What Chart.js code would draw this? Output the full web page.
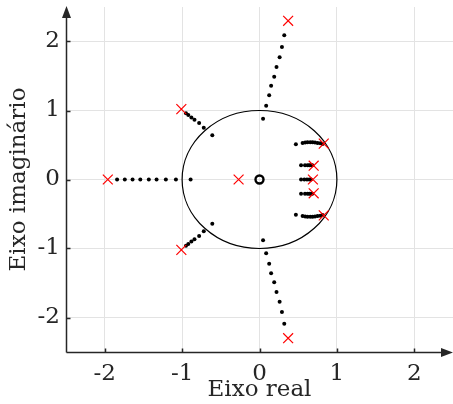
<!DOCTYPE html>
<html>
<head>
<meta charset="utf-8">
<script src="https://cdn.jsdelivr.net/npm/chart.js@4.4.0/dist/chart.umd.min.js"></script>
<style>
  html, body { margin: 0; padding: 0; background: #fff; }
  #wrap { width: 453px; height: 404px; }
</style>
</head>
<body>
<div id="wrap"><canvas id="grafico"></canvas></div>
<script>
// Ticks dos eixos
const xTicks = [-2, -1, 0, 1, 2];
const yTicks = [-2, -1, 0, 1, 2];
const raioCirculo = 1;

// Polos (x vermelho)
const poloRe = [-1.96, -1.01, -1.01, -0.27, 0.37, 0.37, 0.83, 0.70, 0.69, 0.70, 0.83];
const poloIm = [0, 1.02, -1.02, 0, 2.30, -2.30, 0.52, 0.20, 0, -0.20, -0.52];

// Zero (o)
const zeroRe = [0];
const zeroIm = [0];

// Lugar das raízes (pontos pretos)
const ramoRealRe = [-1.84, -1.74, -1.64, -1.54, -1.43, -1.33, -1.21, -1.08, -0.89];
const ramoRealIm = [0, 0, 0, 0, 0, 0, 0, 0, 0];

const ramoSupEsqRe = [-0.95, -0.92, -0.88, -0.84, -0.78, -0.72, -0.61];
const ramoSupEsqIm = [0.96, 0.935, 0.90, 0.867, 0.82, 0.75, 0.64];
const ramoInfEsqRe = [-0.95, -0.92, -0.88, -0.84, -0.78, -0.72, -0.61];
const ramoInfEsqIm = [-0.96, -0.935, -0.90, -0.867, -0.82, -0.75, -0.64];

const ramoSupRe = [0.32, 0.29, 0.26, 0.22, 0.19, 0.15, 0.125, 0.086, 0.046];
const ramoSupIm = [2.09, 1.92, 1.77, 1.63, 1.49, 1.36, 1.22, 1.07, 0.88];
const ramoInfRe = [0.32, 0.29, 0.26, 0.22, 0.19, 0.15, 0.125, 0.086, 0.046];
const ramoInfIm = [-2.09, -1.92, -1.77, -1.63, -1.49, -1.36, -1.22, -1.07, -0.88];

const ramoDir1Re = [0.47, 0.557, 0.59, 0.62, 0.656, 0.686, 0.717, 0.75, 0.785, 0.815];
const ramoDir1Im = [0.51, 0.53, 0.535, 0.539, 0.539, 0.539, 0.535, 0.53, 0.525, 0.516];
const ramoDir2Re = [0.537, 0.588, 0.622, 0.644, 0.665, 0.682];
const ramoDir2Im = [0.205, 0.205, 0.205, 0.205, 0.205, 0.205];
const ramoDir3Re = [0.537, 0.579, 0.614, 0.644, 0.665];
const ramoDir3Im = [0, 0, 0, 0, 0];
const ramoDir4Re = [0.537, 0.588, 0.622, 0.644, 0.665, 0.682];
const ramoDir4Im = [-0.205, -0.205, -0.205, -0.205, -0.205, -0.205];
const ramoDir5Re = [0.47, 0.557, 0.59, 0.62, 0.656, 0.686, 0.717, 0.75, 0.785, 0.815];
const ramoDir5Im = [-0.51, -0.53, -0.535, -0.539, -0.539, -0.539, -0.535, -0.53, -0.525, -0.516];

const ramos = [
  [ramoRealRe, ramoRealIm],
  [ramoSupEsqRe, ramoSupEsqIm],
  [ramoInfEsqRe, ramoInfEsqIm],
  [ramoSupRe, ramoSupIm],
  [ramoInfRe, ramoInfIm],
  [ramoDir1Re, ramoDir1Im],
  [ramoDir2Re, ramoDir2Im],
  [ramoDir3Re, ramoDir3Im],
  [ramoDir4Re, ramoDir4Im],
  [ramoDir5Re, ramoDir5Im]
];

function pontos(re, im) {
  return re.map((v, i) => ({ x: v, y: im[i] }));
}

const corEixo = '#262626';
const fonte = { family: 'DejaVu Serif', size: 23 };

// Círculo unitário e eixos com setas
const eixosPlugin = {
  id: 'eixos',
  beforeDatasetsDraw(chart) {
    const { ctx, scales: { x, y } } = chart;
    const cx = x.getPixelForValue(0);
    const cy = y.getPixelForValue(0);
    const rx = x.getPixelForValue(raioCirculo) - cx;
    const ry = cy - y.getPixelForValue(raioCirculo);
    ctx.save();
    ctx.beginPath();
    ctx.ellipse(cx, cy, rx, ry, 0, 0, 2 * Math.PI);
    ctx.strokeStyle = '#000';
    ctx.lineWidth = 1.2;
    ctx.stroke();
    ctx.restore();
  },
  afterDraw(chart) {
    const { ctx, chartArea: a, scales: { x, y } } = chart;
    const x0 = a.left + 0.5;
    const y0 = a.bottom + 0.5;
    ctx.save();
    ctx.strokeStyle = corEixo;
    ctx.fillStyle = corEixo;
    ctx.lineWidth = 1.5;
    ctx.beginPath();
    ctx.moveTo(x0, y0);
    ctx.lineTo(x0, a.top + 6);
    ctx.moveTo(x0, y0);
    ctx.lineTo(a.right - 6, y0);
    // marcas dos ticks
    yTicks.forEach(t => {
      const py = Math.round(y.getPixelForValue(t)) + 0.5;
      ctx.moveTo(x0, py);
      ctx.lineTo(x0 + 4, py);
    });
    xTicks.forEach(t => {
      const px = Math.round(x.getPixelForValue(t)) + 0.5;
      ctx.moveTo(px, y0);
      ctx.lineTo(px, y0 - 4);
    });
    ctx.stroke();
    // setas
    ctx.beginPath();
    ctx.moveTo(x0, a.top - 1);
    ctx.lineTo(x0 - 4.5, a.top + 11);
    ctx.lineTo(x0 + 4.5, a.top + 11);
    ctx.closePath();
    ctx.fill();
    ctx.beginPath();
    ctx.moveTo(a.right, y0);
    ctx.lineTo(a.right - 12, y0 - 4.5);
    ctx.lineTo(a.right - 12, y0 + 4.5);
    ctx.closePath();
    ctx.fill();
    ctx.restore();
  }
};

const datasets = [
  {
    label: 'Polos',
    data: pontos(poloRe, poloIm),
    pointStyle: 'crossRot',
    pointRadius: 7,
    borderColor: '#ff0000',
    borderWidth: 1.2,
    order: 0
  },
  {
    label: 'Zero',
    data: pontos(zeroRe, zeroIm),
    pointStyle: 'circle',
    pointRadius: 4,
    borderColor: '#000',
    backgroundColor: 'rgba(0,0,0,0)',
    borderWidth: 2.4,
    order: 1
  },
  ...ramos.map(([re, im]) => ({
    label: 'Lugar',
    data: pontos(re, im),
    pointStyle: 'circle',
    pointRadius: 2,
    borderWidth: 0,
    backgroundColor: '#000',
    order: 2
  }))
];

new Chart(document.getElementById('grafico'), {
  type: 'scatter',
  data: { datasets },
  options: {
    responsive: true,
    maintainAspectRatio: false,
    animation: false,
    devicePixelRatio: 1,
    layout: { autoPadding: false, padding: { top: 7, right: 0, left: 0, bottom: 0 } },
    plugins: {
      legend: { display: false },
      tooltip: { enabled: false }
    },
    scales: {
      x: {
        type: 'linear',
        min: -2.5,
        max: 2.5,
        afterBuildTicks: s => { s.ticks = xTicks.map(v => ({ value: v })); },
        afterFit: s => { s.height = 52; s.paddingLeft = 0; s.paddingRight = 0; },
        grid: { color: '#e3e3e3', drawTicks: false },
        border: { display: false },
        ticks: { color: corEixo, font: fonte, padding: 8, maxRotation: 0 },
        title: { display: true, text: 'Eixo real', color: corEixo, font: fonte, padding: { top: 0, bottom: 0 } }
      },
      y: {
        type: 'linear',
        min: -2.5,
        max: 2.5,
        afterBuildTicks: s => { s.ticks = yTicks.map(v => ({ value: v })); },
        afterFit: s => { s.width = 66; s.paddingTop = 0; s.paddingBottom = 0; },
        grid: { color: '#e3e3e3', drawTicks: false },
        border: { display: false },
        ticks: { color: corEixo, font: fonte, padding: 6 },
        title: { display: true, text: 'Eixo imaginário', color: corEixo, font: fonte, padding: { top: 5, bottom: 0 } }
      }
    }
  },
  plugins: [eixosPlugin]
});
</script>
</body>
</html>
